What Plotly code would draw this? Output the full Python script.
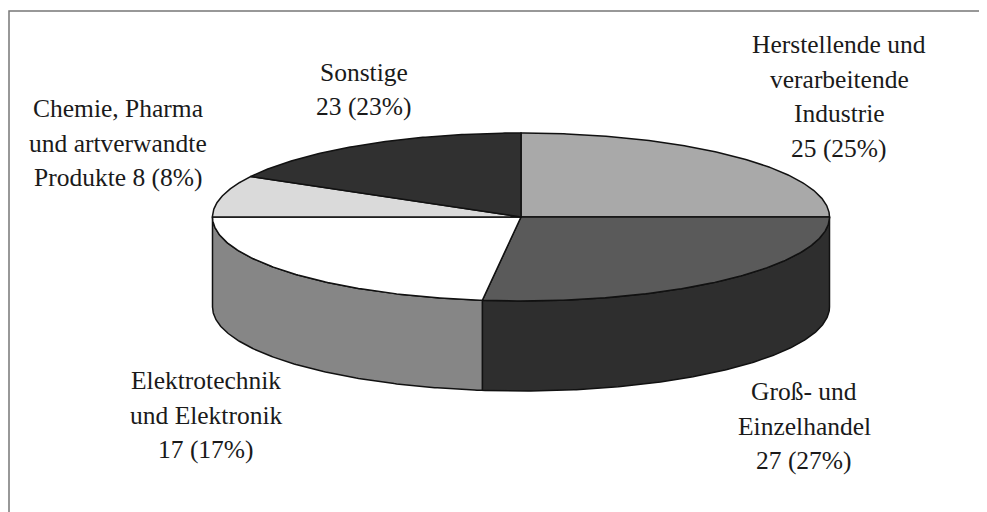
import numpy as np
import plotly.graph_objects as go

# ---- data (slices in drawing order, clockwise from 12 o'clock) ----
names = [
    "Herstellende und\nverarbeitende\nIndustrie",
    "Groß- und\nEinzelhandel",
    "Sonstige",
    "Chemie, Pharma\nund artverwandte\nProdukte",
    "Elektrotechnik\nund Elektronik",
]
values = [25, 27, 23, 8, 17]
value_sep = ["\n", "\n", "\n", " ", "\n"]

# ---- styles / layout ----
top_colors = ["#a9a9a9", "#5a5a5a", "#ffffff", "#dadada", "#303030"]
side_colors = ["#7a7a7a", "#2e2e2e", "#868686", "#a0a0a0", "#1e1e1e"]
label_pos = [(839, 96.5), (804, 426), (364, 89.5), (118, 143), (206, 415)]

W, H = 987, 512            # browser window
PAD = 8                    # default page body margin
CX, CY = 521.0, 217.0      # pie centre (window pixel units)
RX, RY = 308.5, 84.0       # ellipse radii
DEPTH = 90.0               # height of pie side
LINE = dict(color="#111111", width=1.5)
FONT = "Liberation Serif, Times New Roman, serif"

total = float(sum(values))
fig = go.Figure()


def arc(a0, a1, dy=0.0):
    n = max(3, int(abs(a1 - a0) * 2) + 1)
    t = np.radians(np.linspace(a0, a1, n))
    return CX + RX * np.cos(t), CY - RY * np.sin(t) + dy


# angles (clockwise from 90 deg)
angles = []
a = 90.0
for v in values:
    span = 360.0 * v / total
    angles.append((a, a - span))
    a -= span

# side faces (only the front half, sin(theta) <= 0)
for (a0, a1), col in zip(angles, side_colors):
    lo, hi = min(a0, a1), max(a0, a1)
    for k in range(-2, 2):
        f0, f1 = -180 + 360 * k, 0 + 360 * k
        s0, s1 = max(lo, f0), min(hi, f1)
        if s1 - s0 > 1e-6:
            xt, yt = arc(s1, s0)
            xb, yb = arc(s0, s1, DEPTH)
            xs = np.concatenate([xt, xb, xt[:1]])
            ys = np.concatenate([yt, yb, yt[:1]])
            fig.add_trace(go.Scatter(x=xs, y=ys, mode="lines", fill="toself",
                                     fillcolor=col, line=LINE,
                                     hoverinfo="skip", showlegend=False))

# top faces
for (a0, a1), col in zip(angles, top_colors):
    xa, ya = arc(a0, a1)
    xs = np.concatenate([[CX], xa, [CX]])
    ys = np.concatenate([[CY], ya, [CY]])
    fig.add_trace(go.Scatter(x=xs, y=ys, mode="lines", fill="toself",
                             fillcolor=col, line=LINE,
                             hoverinfo="skip", showlegend=False))

# labels
LINE_H = 34.5
annotations = []
for name, v, sep, (lx, ly) in zip(names, values, value_sep, label_pos):
    pct = round(100 * v / total)
    text = f"{name}{sep}{v} ({pct}%)"
    lines = text.split("\n")
    n = len(lines)
    for i, ln in enumerate(lines):
        annotations.append(dict(
            x=lx, y=ly + (i - (n - 1) / 2) * LINE_H, xref="x", yref="y",
            text=ln, showarrow=False, xanchor="center", yanchor="middle",
            font=dict(family=FONT, size=25.5, color="#1a1a1a")))

fig.update_layout(
    width=W - PAD, height=H - PAD, autosize=False,
    margin=dict(l=0, r=0, t=0, b=0),
    paper_bgcolor="white", plot_bgcolor="white",
    font=dict(family=FONT),
    xaxis=dict(range=[PAD, W], visible=False, fixedrange=True),
    yaxis=dict(range=[H, PAD], visible=False, fixedrange=True),
    annotations=annotations,
    shapes=[dict(type="rect", xref="x", yref="y", x0=9, y0=11, x1=W + 20, y1=H + 20,
                 line=dict(color="#777777", width=1.5), layer="below")],
)

fig.write_html("out.html", config={"displayModeBar": False})
